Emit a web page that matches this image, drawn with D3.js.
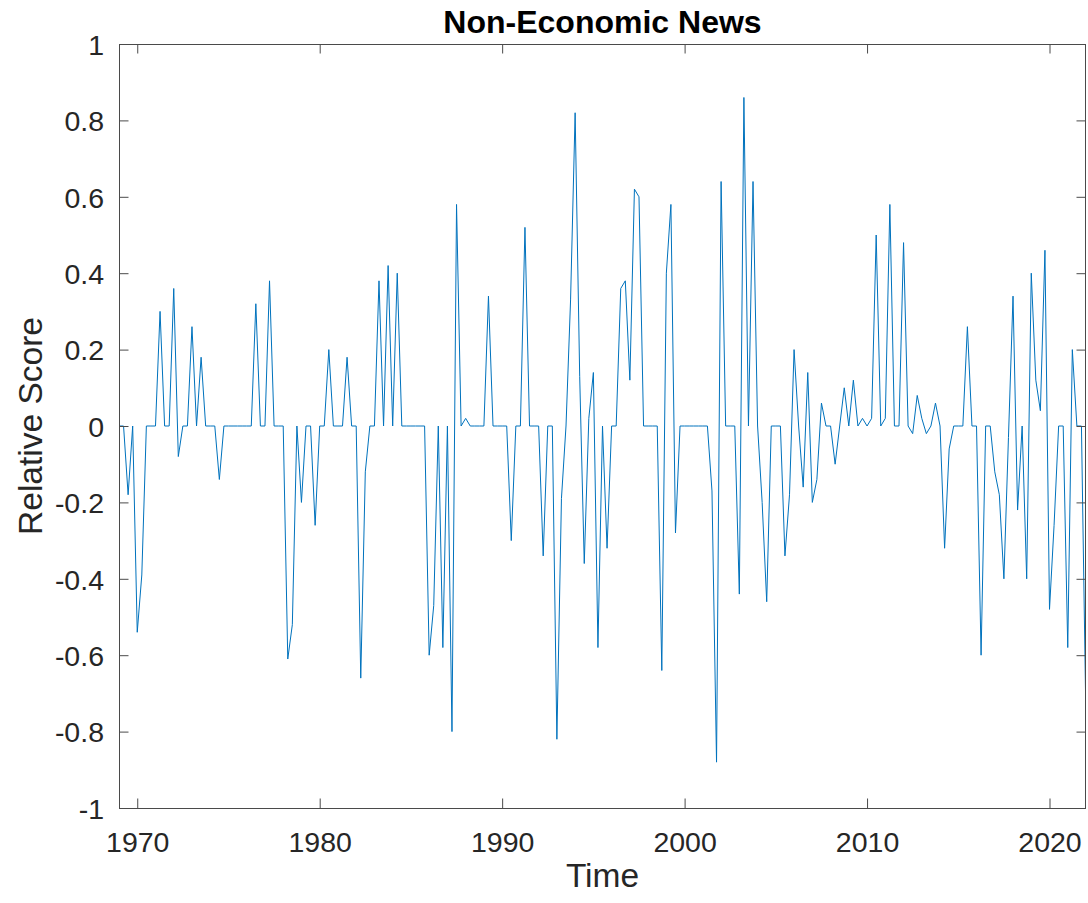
<!DOCTYPE html>
<html>
<head>
<meta charset="utf-8">
<script src="https://cdn.jsdelivr.net/npm/d3@7/dist/d3.min.js"></script>
<style>
  html, body { margin: 0; padding: 0; background: #ffffff; }
  svg { display: block; }
  text { font-family: "Liberation Sans", Arial, Helvetica, sans-serif; fill: #262626; }
</style>
</head>
<body>
<svg id="chart" width="1088" height="903"></svg>
<script>
// Quarterly series, first observation 1969 Q1
const startYear = 1969;
const stepYears = 0.25;

// Relative score per quarter
const scores = [
  0, 0, -0.18, 0, -0.54, -0.39, 0, 0, 0, 0.30,
  0, 0, 0.36, -0.08, 0, 0, 0.26, 0, 0.18, 0,
  0, 0, -0.14, 0, 0, 0, 0, 0, 0, 0,
  0.32, 0, 0, 0.38, 0, 0, 0, -0.61, -0.52, 0,
  -0.20, 0, 0, -0.26, 0, 0, 0.20, 0, 0, 0,
  0.18, 0, 0, -0.66, -0.12, 0, 0, 0.38, 0, 0.42,
  0, 0.40, 0, 0, 0, 0, 0, 0, -0.60, -0.47,
  0, -0.58, 0, -0.80, 0.58, 0, 0.02, 0, 0, 0,
  0, 0.34, 0, 0, 0, 0, -0.30, 0, 0, 0.52,
  0, 0, 0, -0.34, 0, 0, -0.82, -0.19, 0.0, 0.33,
  0.82, 0.13, -0.36, 0.02, 0.14, -0.58, 0, -0.32, 0, 0,
  0.36, 0.38, 0.12, 0.62, 0.60, 0, 0, 0, 0, -0.64,
  0.40, 0.58, -0.28, 0, 0, 0, 0, 0, 0, 0,
  -0.17, -0.88, 0.64, 0, 0, 0, -0.44, 0.86, 0, 0.64,
  0, -0.20, -0.46, 0, 0, 0, -0.34, -0.18, 0.20, 0,
  -0.16, 0.14, -0.20, -0.14, 0.06, 0, 0, -0.10, 0, 0.10,
  0, 0.12, 0, 0.02, 0, 0.02, 0.50, 0, 0.02, 0.58,
  0, 0, 0.48, 0, -0.02, 0.08, 0.02, -0.02, 0, 0.06,
  0, -0.32, -0.06, 0, 0, 0, 0.26, 0, 0, -0.60,
  0, 0, -0.12, -0.18, -0.40, -0.03, 0.34, -0.22, 0, -0.40,
  0.40, 0.12, 0.04, 0.46, -0.48, -0.26, 0, 0, -0.58, 0.20,
  0, 0, -0.78
];

// Axis ticks and labels
const xTicks = [1970, 1980, 1990, 2000, 2010, 2020];
const yTicks = [-1, -0.8, -0.6, -0.4, -0.2, 0, 0.2, 0.4, 0.6, 0.8, 1];
const yTickLabels = ["-1", "-0.8", "-0.6", "-0.4", "-0.2", "0", "0.2", "0.4", "0.6", "0.8", "1"];

const titleText = "Non-Economic News";
const xLabelText = "Time";
const yLabelText = "Relative Score";

// Layout
const plot = { left: 119, right: 1086, top: 44, bottom: 808 };
const axisColor = "#4a4a4a";
const lineColor = "#0072BD";
const tickLen = 9.5;

const series = scores.map((v, i) => ({ t: startYear + i * stepYears, v }));

const x = d3.scaleLinear()
  .domain([startYear, startYear + (scores.length - 1) * stepYears])
  .range([plot.left, plot.right]);
const y = d3.scaleLinear().domain([-1, 1]).range([plot.bottom, plot.top]);

const svg = d3.select("#chart");

// Plot background
svg.append("rect")
  .attr("x", plot.left).attr("y", plot.top)
  .attr("width", plot.right - plot.left).attr("height", plot.bottom - plot.top)
  .attr("fill", "#ffffff");

// Data line, clipped to the axes box
svg.append("clipPath").attr("id", "plotClip")
  .append("rect")
  .attr("x", plot.left).attr("y", plot.top)
  .attr("width", plot.right - plot.left).attr("height", plot.bottom - plot.top);

const line = d3.line().x(d => x(d.t)).y(d => y(d.v));
svg.append("path")
  .datum(series)
  .attr("clip-path", "url(#plotClip)")
  .attr("fill", "none")
  .attr("stroke", lineColor)
  .attr("stroke-width", 1)
  .attr("stroke-linejoin", "miter")
  .attr("d", line);

// Axes: ticks pointing inward on all four sides
const bottomAxis = d3.axisBottom(x).tickValues(xTicks).tickSize(-tickLen).tickFormat(d3.format("d")).tickPadding(0);
const topAxis = d3.axisTop(x).tickValues(xTicks).tickSize(-tickLen).tickFormat("");
const leftAxis = d3.axisLeft(y).tickValues(yTicks).tickSize(-tickLen)
  .tickFormat((d, i) => yTickLabels[i]).tickPadding(0);
const rightAxis = d3.axisRight(y).tickValues(yTicks).tickSize(-tickLen).tickFormat("");

function styleAxis(g) {
  g.select(".domain").remove();
  g.selectAll(".tick line").attr("stroke", axisColor).attr("stroke-width", 1);
  g.selectAll(".tick text")
    .attr("fill", "#262626")
    .style("font-family", "'Liberation Sans', Arial, sans-serif")
    .style("font-size", "28.5px");
}

const gb = svg.append("g").attr("transform", `translate(0,${plot.bottom})`).call(bottomAxis).call(styleAxis);
gb.selectAll(".tick text").attr("y", 44).attr("dy", null);

svg.append("g").attr("transform", `translate(0,${plot.top})`).call(topAxis).call(styleAxis);

const gl = svg.append("g").attr("transform", `translate(${plot.left},0)`).call(leftAxis).call(styleAxis);
gl.selectAll(".tick text").attr("x", -15).attr("dy", "0.36em");

svg.append("g").attr("transform", `translate(${plot.right},0)`).call(rightAxis).call(styleAxis);

// Box outline
svg.append("rect")
  .attr("x", plot.left + 0.5).attr("y", plot.top + 0.5)
  .attr("width", plot.right - plot.left - 1).attr("height", plot.bottom - plot.top)
  .attr("fill", "none")
  .attr("stroke", axisColor)
  .attr("stroke-width", 1);

// Title
svg.append("text")
  .attr("x", (plot.left + plot.right) / 2)
  .attr("y", 33)
  .attr("text-anchor", "middle")
  .style("font-size", "32px")
  .style("font-weight", "bold")
  .style("fill", "#000000")
  .text(titleText);

// Axis labels
svg.append("text")
  .attr("x", (plot.left + plot.right) / 2)
  .attr("y", 887)
  .attr("text-anchor", "middle")
  .style("font-size", "33.5px")
  .text(xLabelText);

svg.append("text")
  .attr("transform", `translate(42,${(plot.top + plot.bottom) / 2}) rotate(-90)`)
  .attr("text-anchor", "middle")
  .style("font-size", "33.5px")
  .text(yLabelText);
</script>
</body>
</html>
